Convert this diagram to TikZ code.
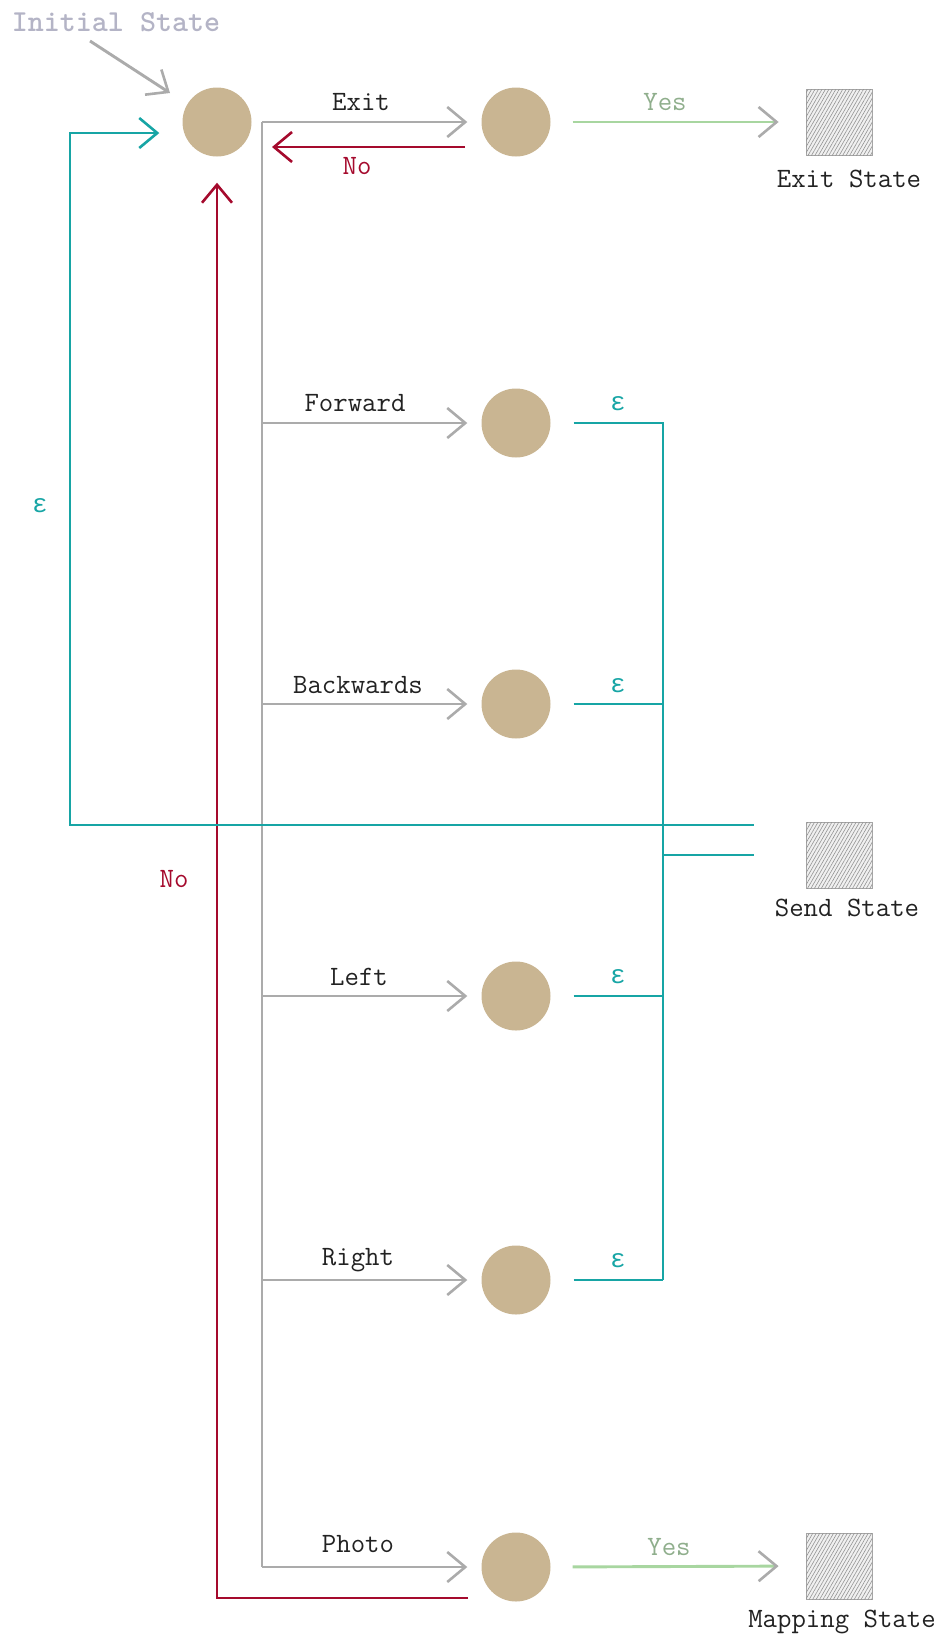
\documentclass[tikz,border=0pt]{standalone}
\usepackage{fontspec}
\newfontfamily\epsfont{Liberation Mono}
\usetikzlibrary{arrows.meta,patterns.meta,calc}
\definecolor{statetan}{HTML}{C9B592}
\definecolor{arrgray}{HTML}{ABABAB}
\definecolor{noRed}{HTML}{A50A2D}
\definecolor{epsTeal}{HTML}{17A5A5}
\definecolor{yesGreen}{HTML}{A8D6A0}
\definecolor{yesText}{HTML}{8FAE8C}
\definecolor{initText}{HTML}{B4B4C6}
\definecolor{txt}{HTML}{222222}
\begin{document}
\begin{tikzpicture}[x=1pt,y=-1pt,
  state/.style={circle,fill=statetan,minimum size=69pt,inner sep=0pt},
  final/.style={rectangle,draw=gray!70,line width=0.8pt,fill=gray!12,minimum size=66pt,inner sep=0pt,
    postaction={pattern={Lines[angle=60,distance=3pt,line width=0.6pt]},pattern color=gray!85}},
  lbl/.style={font=\ttfamily\fontsize{28}{30}\selectfont,text=txt},
  barb/.style={-{Straight Barb[length=18pt,width=30pt,line width=2.6pt]}},
  grayline/.style={draw=arrgray,line width=2.9pt},
  grayarr/.style={grayline,barb},
  redarr/.style={draw=noRed,line width=2.9pt,barb},
  tealline/.style={draw=epsTeal,line width=2.9pt},
  tealarr/.style={tealline,barb},
  yesarr/.style={draw=yesGreen,line width=2.9pt,-{Straight Barb[length=18pt,width=30pt,line width=2.6pt,color=arrgray]}},
  epslbl/.style={font=\epsfont\fontsize{26}{30}\selectfont,text=epsTeal},
  nolbl/.style={font=\ttfamily\fontsize{28}{30}\selectfont,text=noRed},
  yeslbl/.style={font=\ttfamily\fontsize{28}{30}\selectfont,text=yesText}
]
\useasboundingbox (0,0) rectangle (946,1639);

% states
\node[state] (init) at (217,122) {};
\node[state] (exitq) at (516,122) {};
\node[state] (fwd) at (516,423) {};
\node[state] (bwd) at (516,704) {};
\node[state] (left) at (516,996) {};
\node[state] (right) at (516,1280) {};
\node[state] (photo) at (516,1567) {};
\node[final] (exitst) at (839,122) {};
\node[final] (sendst) at (839,855) {};
\node[final] (mapst) at (839,1566) {};

% text labels
\node[font=\ttfamily\bfseries\fontsize{30.5}{32}\selectfont,text=initText] (inittxt) at (116,22) {Initial State};
\node[lbl] (exitsttxt) at (849,179) {Exit State};
\node[lbl] (sendsttxt) at (847,908) {Send State};
\node[lbl] (mapsttxt) at (842,1622) {Mapping State};

% initial arrow
\coordinate (ia) at (90,41);
\draw[grayarr] (ia) -- ($(init.center)+(-47,-29)$);

% gray trunk and branches
\coordinate (t0) at (262,122);
\coordinate (t6) at (262,1567);
\draw[grayline] (t0) -- (t6);
\draw[grayarr,shorten >=14pt] (t0) -- (exitq.west);
\draw[grayarr,shorten >=14pt] (t0 |- fwd) -- (fwd.west);
\draw[grayarr,shorten >=14pt] (t0 |- bwd) -- (bwd.west);
\draw[grayarr,shorten >=14pt] (t0 |- left) -- (left.west);
\draw[grayarr,shorten >=14pt] (t0 |- right) -- (right.west);
\draw[grayarr,shorten >=14pt] (t6) -- (photo.west);

\node[lbl] (lexit) at (361,102) {Exit};
\node[lbl] (lfwd) at (355,403) {Forward};
\node[lbl] (lbwd) at (358,685) {Backwards};
\node[lbl] (lleft) at (359,977) {Left};
\node[lbl] (lright) at (358,1260) {Right};
\node[lbl] (lphoto) at (358,1544) {Photo};

% Yes arrows
\draw[yesarr,shorten <=22pt,shorten >=27pt] (exitq.east) -- (exitst.west);
\draw[yesarr,shorten <=22pt,shorten >=27pt] (photo.east) -- (mapst.west);
\node[yeslbl] (yes1) at (665,102) {Yes};
\node[yeslbl] (yes2) at (669,1547) {Yes};

% red No arrows
\draw[redarr] ($(exitq.center)+(-51,25)$) -- ($(init.center)+(55,25)$);
\node[nolbl] (no1) at (357,166) {No};
\draw[redarr,shorten >=26pt] ($(photo.center)+(-48,31)$) -| (init.south);
\node[nolbl] (no2) at (174,879) {No};

% epsilon transitions
\coordinate (ev) at (663,423);
\draw[tealline] ($(fwd.east)+(23,0)$) -- (ev) -- (ev |- right);
\draw[tealline] ($(bwd.east)+(23,0)$) -- (ev |- bwd);
\draw[tealline] ($(left.east)+(23,0)$) -- (ev |- left);
\draw[tealline] ($(right.east)+(23,0)$) -- (ev |- right);
\draw[tealline] (ev |- sendst) -- ($(sendst.west)+(-52,0)$);
\node[epslbl] (e1) at (618,404) {ɛ};
\node[epslbl] (e2) at (618,686) {ɛ};
\node[epslbl] (e3) at (618,977) {ɛ};
\node[epslbl] (e4) at (618,1261) {ɛ};

% send state back to initial
\draw[tealarr] ($(sendst.west)+(-52,-30)$) -| (70,133) -- ($(init.west)+(-23,11)$);
\node[epslbl] (e5) at (40,506) {ɛ};
\end{tikzpicture}
\end{document}
